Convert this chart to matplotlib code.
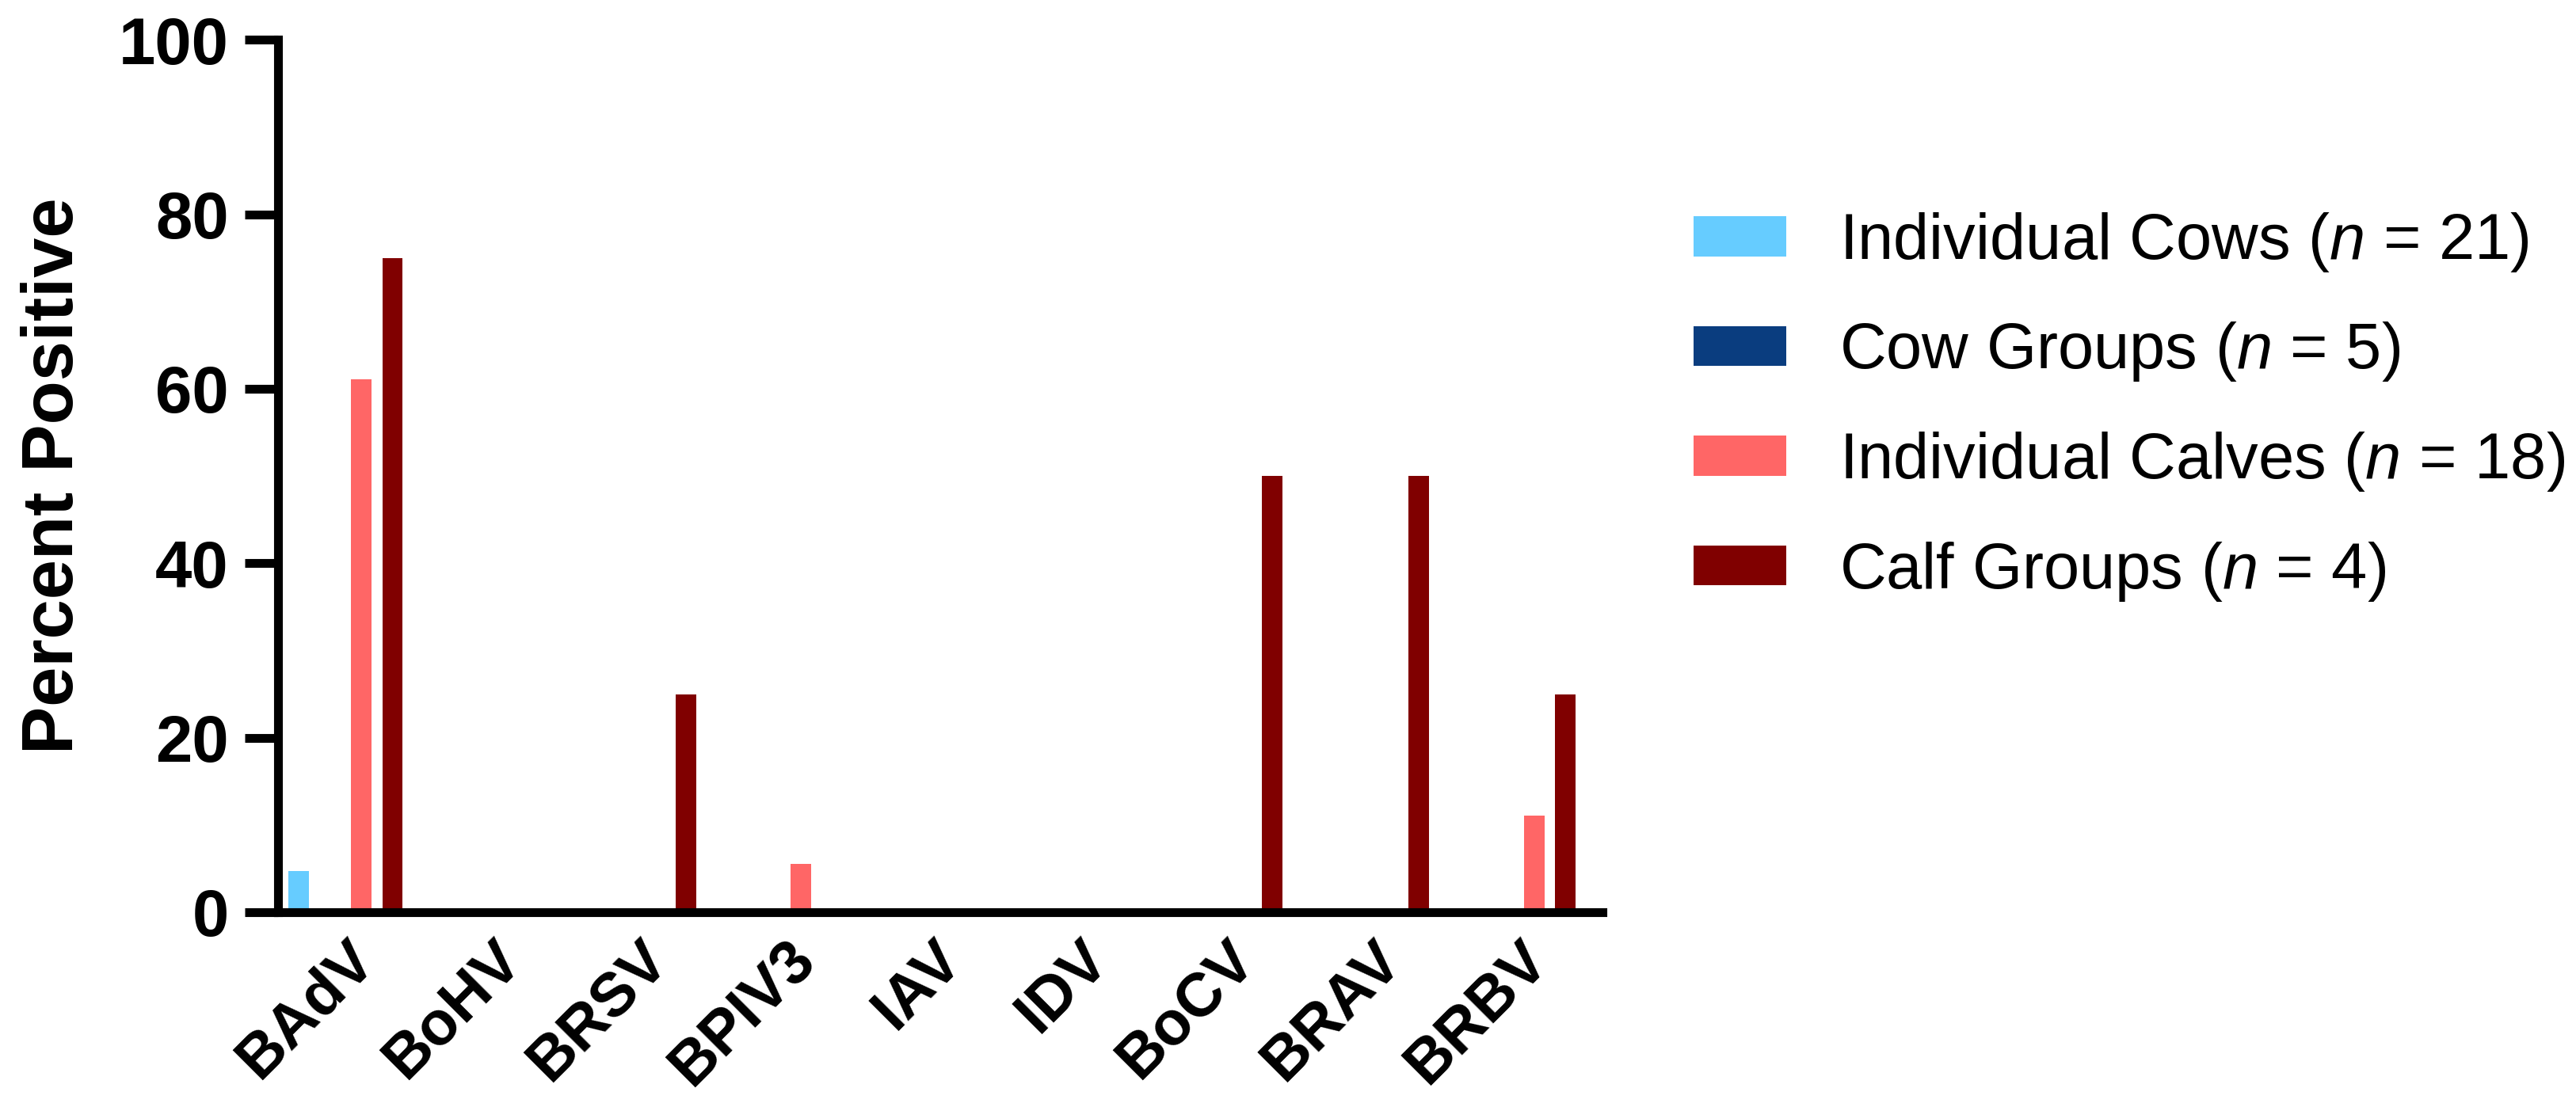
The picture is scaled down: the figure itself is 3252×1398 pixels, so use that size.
import numpy as np
import matplotlib
matplotlib.use("Agg")
import matplotlib.pyplot as plt

viruses = ["BAdV", "BoHV", "BRSV", "BPIV3", "IAV", "IDV", "BoCV", "BRAV", "BRBV"]
series_names = ["Individual Cows ($\\it{n}$ = 21)",
                "Cow Groups ($\\it{n}$ = 5)",
                "Individual Calves ($\\it{n}$ = 18)",
                "Calf Groups ($\\it{n}$ = 4)"]
indiv_cows = [4.76, 0, 0, 0, 0, 0, 0, 0, 0]
cow_groups = [0, 0, 0, 0, 0, 0, 0, 0, 0]
indiv_calves = [61.1, 0, 0, 5.56, 0, 0, 0, 0, 11.1]
calf_groups = [75, 0, 25, 0, 0, 0, 50, 50, 25]
colors = ["#66CCFF", "#0A3D7F", "#FF6666", "#800000"]

plt.rcParams['font.family'] = ['Liberation Sans', 'DejaVu Sans']
plt.rcParams['mathtext.fontset'] = 'custom'
plt.rcParams['mathtext.it'] = 'Liberation Sans:italic'
plt.rcParams['mathtext.rm'] = 'Liberation Sans'

fig = plt.figure(figsize=(32.52, 13.98), dpi=100)
ax = fig.add_axes([0.108, 0.176, 0.514, 0.788])

x = np.arange(len(viruses))
step = 0.213
width = 0.14
all_series = [indiv_cows, cow_groups, indiv_calves, calf_groups]
for i, vals in enumerate(all_series):
    ax.bar(x + (i - 1.5) * step, vals, width, color=colors[i], label=series_names[i])

ax.set_xlim(-0.46, 8.57)
ax.set_ylim(0, 100)
ax.set_yticks([0, 20, 40, 60, 80, 100])
ax.spines['top'].set_visible(False)
ax.spines['right'].set_visible(False)
for s in ['left', 'bottom']:
    ax.spines[s].set_linewidth(8)
ax.tick_params(axis='y', length=30, width=8, pad=15, labelsize=60)
ax.tick_params(axis='x', length=0, pad=16)
for lab in ax.get_yticklabels():
    lab.set_fontweight('bold')
ax.set_xticks(x)
ax.set_xticklabels(viruses, rotation=45, ha='right', va='top', rotation_mode='anchor',
                   fontsize=56, fontweight='bold')
ax.set_ylabel("Percent Positive", fontsize=65, fontweight='bold', labelpad=28)

leg = ax.legend(loc='upper left', bbox_to_anchor=(2138 / 3252, 1 - 266 / 1398),
                bbox_transform=fig.transFigure, frameon=False, fontsize=58.5,
                handlelength=1.44, handleheight=0.58, handletextpad=0.82,
                labelspacing=0.72, borderpad=0, borderaxespad=0)

fig.savefig("out.png", dpi=100)
